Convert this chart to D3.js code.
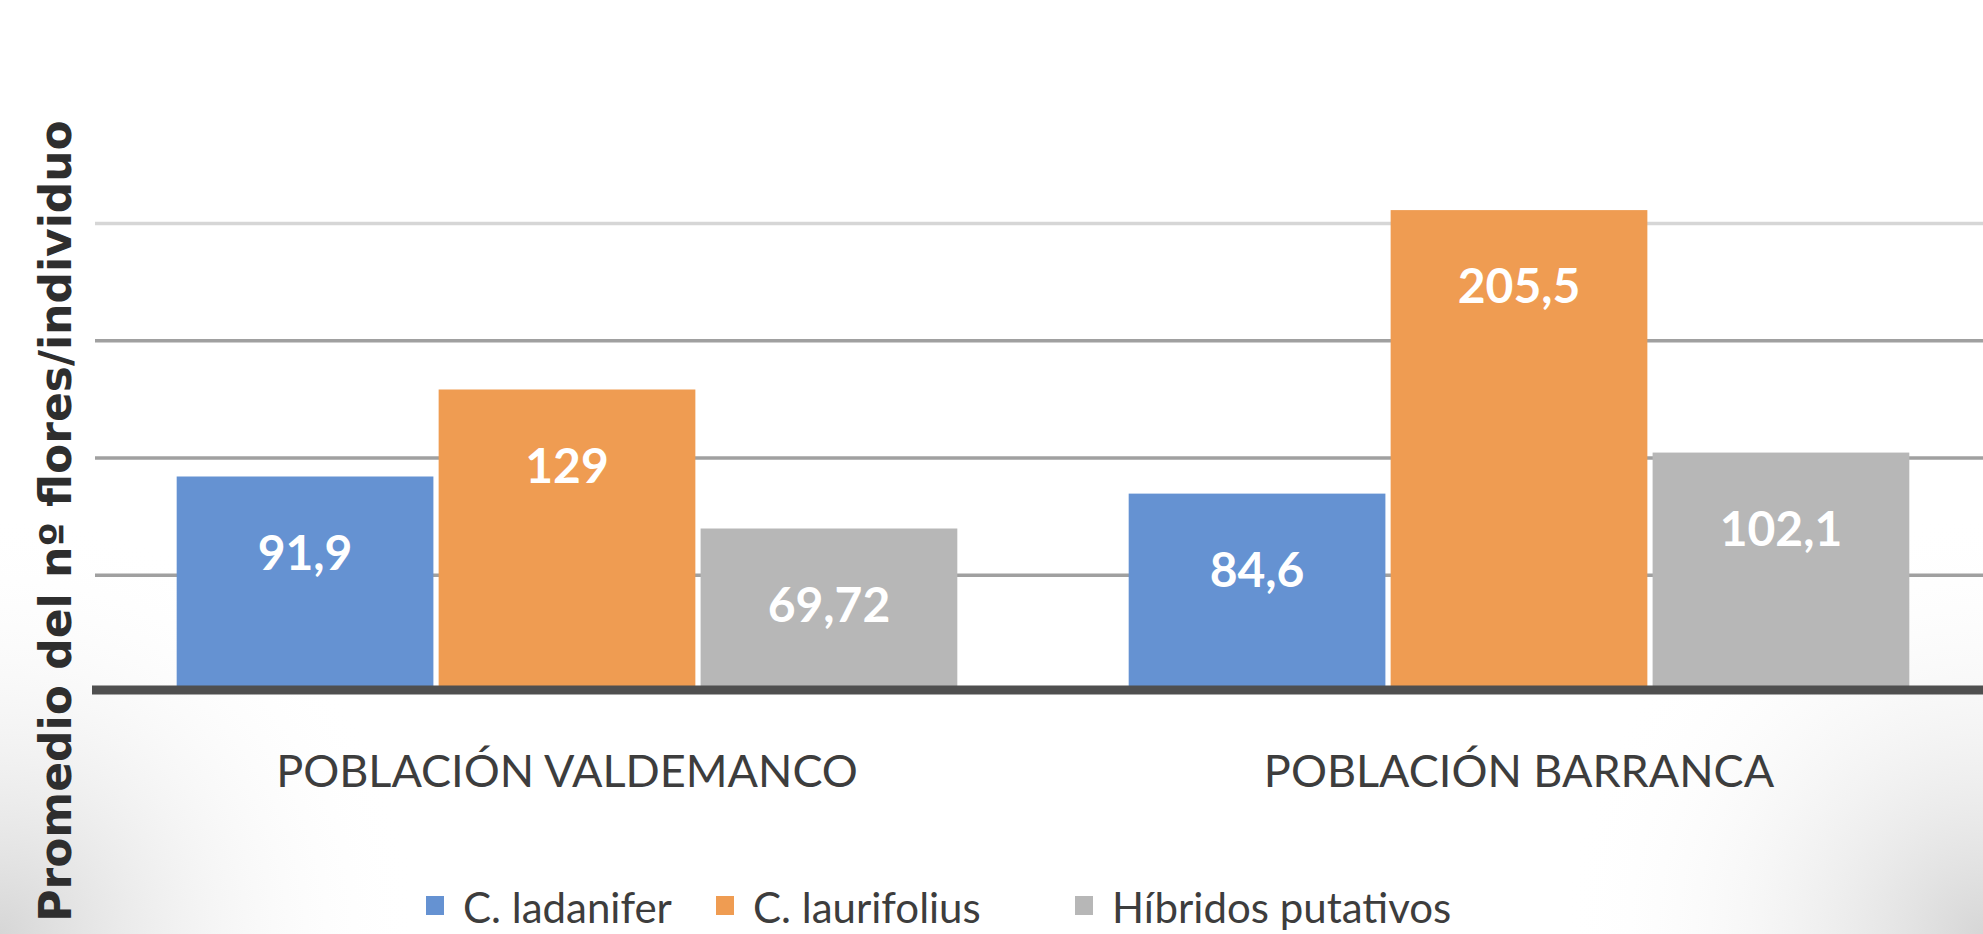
<!DOCTYPE html>
<html>
<head>
<meta charset="utf-8">
<script src="https://cdn.jsdelivr.net/npm/d3@7/dist/d3.min.js"></script>
<style>
  body { margin: 0; background: #fff; }
  svg { display: block; }
</style>
</head>
<body>
<svg id="chart"></svg>
<script>
// chart data
const categories = ['POBLACIÓN VALDEMANCO', 'POBLACIÓN BARRANCA']
const seriesNames = ['C. ladanifer', 'C. laurifolius', 'Híbridos putativos']
const ladanifer = [91.9, 84.6]
const laurifolius = [129, 205.5]
const hibridos = [69.72, 102.1]
const valueLabels = [['91,9', '84,6'], ['129', '205,5'], ['69,72', '102,1']]
const gridTicks = [50, 100, 150, 200]
const yTitle = 'Promedio del nº flores/individuo'

const seriesValues = [ladanifer, laurifolius, hibridos]
const colors = ['#6592d2', '#ef9c52', '#b7b7b7']

const width = 1983
const height = 934
const margin = ({top: 0, right: -12, bottom: 242, left: 91})
// where each legend entry starts (entries are not evenly spaced in the original)
const legendX = [426, 716, 1075]

const svg = d3.select('#chart')
  .attr('width', width)
  .attr('height', height)

// soft grey shading in the bottom corners of the slide
const defs = svg.append('defs')
;['shadeL', 'shadeR'].forEach(id => {
  const g = defs.append('radialGradient')
    .attr('id', id)
    .attr('gradientUnits', 'userSpaceOnUse')
    .attr('cx', id === 'shadeL' ? 0 : width)
    .attr('cy', height)
    .attr('r', 420)
  g.append('stop').attr('offset', '0%').attr('stop-color', '#d6d6d6').attr('stop-opacity', 1)
  g.append('stop').attr('offset', '100%').attr('stop-color', '#ffffff').attr('stop-opacity', 0)
})
svg.append('rect').attr('width', width).attr('height', height).attr('fill', '#fff')
svg.append('rect').attr('width', width).attr('height', height).attr('fill', 'url(#shadeL)')
svg.append('rect').attr('width', width).attr('height', height).attr('fill', 'url(#shadeR)')

const x0 = d3.scaleBand()
  .domain(categories)
  .range([margin.left, width - margin.right])
  .paddingInner(0.18)
  .paddingOuter(0.09)

const x1 = d3.scaleBand()
  .domain(seriesNames)
  .range([0, x0.bandwidth()])
  .paddingInner(0.02)

const y = d3.scaleLinear()
  .domain([0, 200])
  .range([692, 223])

// gridlines
svg.append('g')
  .attr('transform', `translate(95, 0)`)
  .call(d3.axisLeft(y).tickValues(gridTicks).tickSize(-(width - 95)).tickFormat(''))
  .call(g => g.select('.domain').remove())
  .call(g => g.selectAll('.tick line')
    .attr('stroke', d => d === 200 ? '#d6d6d6' : '#a0a0a0')
    .attr('stroke-width', 3.5))

// bars
const cells = (c, ci) => seriesNames.map((s, si) => ({s, si, v: seriesValues[si][ci], label: valueLabels[si][ci]}))

const groups = svg.append('g')
  .selectAll('g')
  .data(categories)
  .join('g')
    .attr('transform', d => `translate(${x0(d)}, 0)`)

groups.selectAll('rect')
  .data(cells)
  .join('rect')
    .attr('x', d => x1(d.s))
    .attr('y', d => y(d.v))
    .attr('width', x1.bandwidth())
    .attr('height', d => y(0) - y(d.v))
    .attr('fill', d => colors[d.si])

groups.selectAll('text')
  .data(cells)
  .join('text')
    .attr('x', d => x1(d.s) + x1.bandwidth() / 2)
    .attr('y', d => y(d.v) + 76)
    .attr('dy', '0.36em')
    .attr('text-anchor', 'middle')
    .attr('fill', '#fff')
    .attr('font-family', 'Lato, sans-serif')
    .attr('font-weight', 'bold')
    .attr('font-size', 48)
    .text(d => d.label)

// x axis: thick dark baseline + category names
svg.append('g')
  .attr('transform', `translate(0, ${y(0) - 2})`)
  .call(d3.axisBottom(x0).tickSize(0).tickPadding(0))
  .call(g => g.select('.domain')
    .attr('d', `M92,0H${width + 20}`)
    .attr('stroke', '#4f4f4f')
    .attr('stroke-width', 9))
  .call(g => g.selectAll('.tick text')
    .attr('y', 97)
    .attr('dy', 0)
    .attr('fill', '#3d3d3d')
    .attr('font-family', 'Lato, sans-serif')
    .attr('font-size', 45))

// y axis title
svg.append('text')
  .attr('transform', 'rotate(-90)')
  .attr('x', -521)
  .attr('y', 71)
  .attr('text-anchor', 'middle')
  .attr('fill', '#2e2e2e')
  .attr('font-family', 'DejaVu Sans, sans-serif')
  .attr('font-weight', 'bold')
  .attr('font-size', 44)
  .text(yTitle)

// legend
const items = svg.append('g')
  .selectAll('g')
  .data(seriesNames)
  .join('g')
    .attr('transform', (d, i) => `translate(${legendX[i]}, 0)`)
items.append('rect')
  .attr('y', 896)
  .attr('width', 18)
  .attr('height', 19)
  .attr('fill', (d, i) => colors[i])
items.append('text')
  .attr('x', 37)
  .attr('y', 923)
  .attr('fill', '#3d3d3d')
  .attr('font-family', 'Lato, sans-serif')
  .attr('font-size', 42)
  .text(d => d)
</script>
</body>
</html>
